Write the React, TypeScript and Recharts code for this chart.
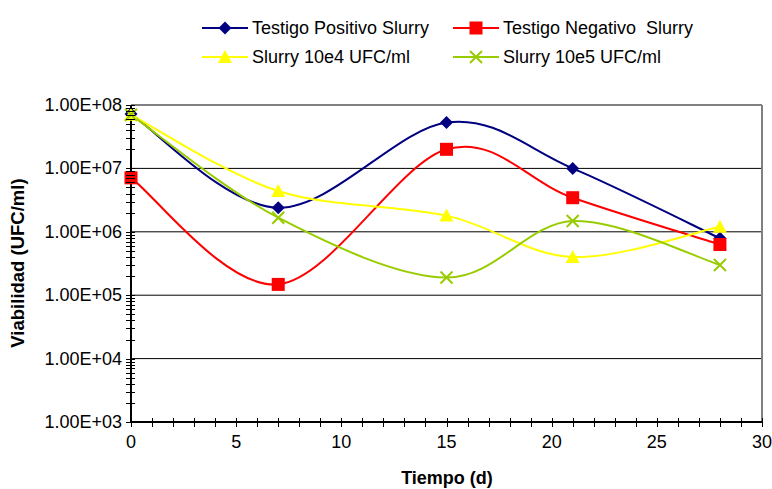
import { Line, LineChart, ReferenceLine, XAxis, YAxis } from "recharts";

const DAYS = [0, 7, 15, 21, 28];
const POSITIVO = [7.2e7, 2.4e6, 5.3e7, 1.0e7, 7.9e5];
const NEGATIVO = [7.1e6, 1.48e5, 2.0e7, 3.45e6, 6.3e5];
const SLURRY_E4 = [7.0e7, 4.4e6, 1.8e6, 4.0e5, 1.2e6];
const SLURRY_E5 = [7.0e7, 1.67e6, 1.9e5, 1.48e6, 3.0e5];

const X_TICKS = Array.from({ length: 31 }, (_, i) => i);
const Y_MAJOR = [1e3, 1e4, 1e5, 1e6, 1e7, 1e8];
const Y_GRID = [1e4, 1e5, 1e6, 1e7];

const SERIES = [
  { key: "pos", name: "Testigo Positivo Slurry", color: "#000080", marker: "diamond", values: POSITIVO },
  { key: "neg", name: "Testigo Negativo  Slurry", color: "#FF0000", marker: "square", values: NEGATIVO },
  { key: "e4", name: "Slurry 10e4 UFC/ml", color: "#FFFF00", marker: "triangle", values: SLURRY_E4 },
  { key: "e5", name: "Slurry 10e5 UFC/ml", color: "#99CC00", marker: "cross", values: SLURRY_E5 },
];

const rows = DAYS.map((day, i) => {
  const row: Record<string, number> = { day };
  for (const s of SERIES) row[s.key] = s.values[i];
  return row;
});

// log minor ticks: 1..9 x 10^n
const Y_TICKS: number[] = [];
for (let e = 3; e < 8; e++) for (let m = 1; m < 10; m++) Y_TICKS.push(m * 10 ** e);
Y_TICKS.push(1e8);

// Excel-style smoothing (Catmull-Rom as cubic bezier in pixel space)
function excelCurve(context: any) {
  let pts: [number, number][] = [];
  return {
    areaStart() {},
    areaEnd() {},
    lineStart() {
      pts = [];
    },
    point(x: number, y: number) {
      pts.push([+x, +y]);
    },
    lineEnd() {
      if (!pts.length) return;
      context.moveTo(pts[0][0], pts[0][1]);
      for (let i = 0; i < pts.length - 1; i++) {
        const p0 = pts[i - 1] || pts[i];
        const p1 = pts[i];
        const p2 = pts[i + 1];
        const p3 = pts[i + 2] || p2;
        context.bezierCurveTo(
          p1[0] + (p2[0] - p0[0]) / 6,
          p1[1] + (p2[1] - p0[1]) / 6,
          p2[0] - (p3[0] - p1[0]) / 6,
          p2[1] - (p3[1] - p1[1]) / 6,
          p2[0],
          p2[1]
        );
      }
    },
  };
}

function Marker({ kind, cx, cy, color }: { kind: string; cx: number; cy: number; color: string }) {
  if (kind === "diamond")
    return <path d={`M${cx},${cy - 6.5}L${cx + 6.5},${cy}L${cx},${cy + 6.5}L${cx - 6.5},${cy}Z`} fill={color} />;
  if (kind === "square") return <rect x={cx - 6.5} y={cy - 6.5} width={13} height={13} fill={color} />;
  if (kind === "triangle")
    return <path d={`M${cx},${cy - 7}L${cx + 7},${cy + 6}L${cx - 7},${cy + 6}Z`} fill={color} />;
  return (
    <path
      d={`M${cx - 6},${cy - 6}L${cx + 6},${cy + 6}M${cx - 6},${cy + 6}L${cx + 6},${cy - 6}`}
      stroke={color}
      strokeWidth={2}
      fill="none"
    />
  );
}

function fmtExp(v: number) {
  const e = Math.round(Math.log10(v));
  return `1.00E+${String(e).padStart(2, "0")}`;
}

function XTick({ x, y, payload }: any) {
  const v = payload.value;
  const px = Math.round(x) + 0.5;
  return (
    <g>
      <path d={`M${px},${y - 4}V${y + 5}`} stroke="#000" strokeWidth={1.2} shapeRendering="crispEdges" />
      {v % 5 === 0 && (
        <text x={x} y={y + 26} textAnchor="middle" fontSize={18} fill="#000">
          {v}
        </text>
      )}
    </g>
  );
}

function YTick({ x, y, payload }: any) {
  const v = payload.value;
  const major = Y_MAJOR.includes(v);
  const py = Math.round(y) + 0.5;
  return (
    <g>
      <path d={`M${x - 5},${py}H${x + 4}`} stroke="#000" strokeWidth={1.2} shapeRendering="crispEdges" />
      {major && (
        <text x={x - 9} y={y + 6} textAnchor="end" fontSize={18} fill="#000">
          {fmtExp(v)}
        </text>
      )}
    </g>
  );
}

const LEGEND_POS = [
  { left: 202, top: 18 },
  { left: 453, top: 18 },
  { left: 202, top: 47 },
  { left: 453, top: 47 },
];

export default function App() {
  return (
    <div
      style={{
        position: "relative",
        width: 772,
        height: 489,
        fontFamily: "'Liberation Sans', Arial, sans-serif",
        background: "#fff",
      }}
    >
      <style>{"body{margin:0}"}</style>
      {SERIES.map((s, i) => (
        <div
          key={s.key}
          style={{
            position: "absolute",
            left: LEGEND_POS[i].left,
            top: LEGEND_POS[i].top,
            display: "flex",
            alignItems: "center",
            height: 20,
            fontSize: 18,
            whiteSpace: "pre",
            color: "#000",
          }}
        >
          <svg width={50} height={20}>
            <line x1={0} x2={46} y1={10} y2={10} stroke={s.color} strokeWidth={2} />
            <Marker kind={s.marker} cx={23} cy={10} color={s.color} />
          </svg>
          <span>{s.name}</span>
        </div>
      ))}
      <div
        style={{
          position: "absolute",
          left: 18,
          top: 263,
          transform: "translate(-50%, -50%) rotate(-90deg)",
          fontSize: 18.5,
          fontWeight: "bold",
          whiteSpace: "nowrap",
        }}
      >
        Viabilidad (UFC/ml)
      </div>
      <div
        style={{
          position: "absolute",
          left: 447,
          top: 478,
          transform: "translate(-50%, -50%)",
          fontSize: 18,
          fontWeight: "bold",
          whiteSpace: "nowrap",
        }}
      >
        Tiempo (d)
      </div>
      <div style={{ position: "absolute", left: 0, top: 0 }}>
        <LineChart width={772} height={489} data={rows} margin={{ top: 105, right: 10, bottom: 27, left: 0 }}>
          <XAxis
            dataKey="day"
            type="number"
            domain={[0, 30]}
            ticks={X_TICKS}
            interval={0}
            height={40}
            tickSize={0}
            tickMargin={0}
            tickLine={false}
            axisLine={{ stroke: "#000", strokeWidth: 2 }}
            tick={<XTick />}
          />
          <YAxis
            scale="log"
            type="number"
            domain={[1e3, 1e8]}
            allowDataOverflow
            ticks={Y_TICKS}
            interval={0}
            width={131}
            tickSize={0}
            tickMargin={0}
            tickLine={false}
            axisLine={{ stroke: "#000", strokeWidth: 2 }}
            tick={<YTick />}
          />
          {Y_GRID.map((v) => (
            <ReferenceLine key={v} y={v} stroke="#000" strokeWidth={1} />
          ))}
          <ReferenceLine y={1e8} stroke="#808080" strokeWidth={2} />
          <ReferenceLine x={30} stroke="#808080" strokeWidth={2} />
          {SERIES.map((s) => (
            <Line
              key={s.key}
              dataKey={s.key}
              name={s.name}
              type={excelCurve as any}
              stroke={s.color}
              strokeWidth={2}
              isAnimationActive={false}
              dot={(p: any) => <Marker key={`${s.key}-${p.index}`} kind={s.marker} cx={p.cx} cy={p.cy} color={s.color} />}
              activeDot={false}
            />
          ))}
        </LineChart>
      </div>
    </div>
  );
}
